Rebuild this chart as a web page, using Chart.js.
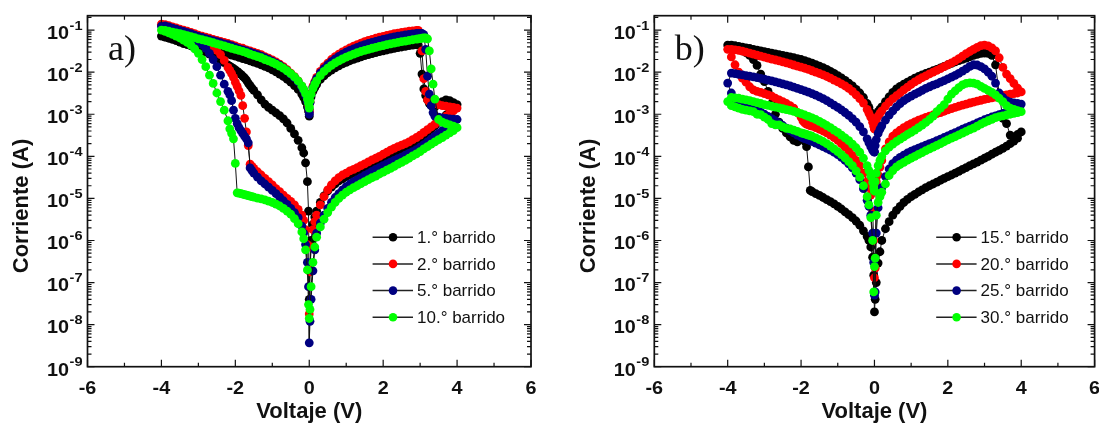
<!DOCTYPE html>
<html>
<head>
<meta charset="utf-8">
<script src="https://cdn.jsdelivr.net/npm/chart.js@4.4.0/dist/chart.umd.min.js"></script>
<style>
html,body{margin:0;padding:0;background:#fff;}
#wrap{position:relative;width:1099px;height:423px;overflow:hidden;background:#fff;}
canvas{position:absolute;top:0;}
#ca{left:0;}
#cb{left:549px;}
</style>
</head>
<body>
<div id="wrap">
<canvas id="ca" width="549" height="423"></canvas>
<canvas id="cb" width="550" height="423"></canvas>
</div>
<script>
// ---------- tick labels / categories ----------
const xTicks = [-6, -4, -2, 0, 2, 4, 6];
const yExponents = [-9, -8, -7, -6, -5, -4, -3, -2, -1];
const labelsA = ['1.° barrido', '2.° barrido', '5.° barrido', '10.° barrido'];
const labelsB = ['15.° barrido', '20.° barrido', '25.° barrido', '30.° barrido'];
const seriesColors = ['#000000', '#ff0000', '#000080', '#00ff00'];
const xTitle = 'Voltaje (V)';
const yTitle = 'Corriente (A)';

// ---------- panel a: sweep voltages (V) ----------
const voltA = [
0,0.02,0.05,0.1,0.15,0.2,0.3,0.4,0.5,0.6,0.7,0.8,0.9,1,1.1,1.2,1.3,1.4,1.5,1.6,1.7,1.8,1.9,2,2.1,2.2,2.3,2.4,2.5,2.6,2.7,2.8,2.9,2.95,3,3.05,3.1,3.15,3.2,3.25,3.3,3.35,3.4,3.5,3.6,3.7,3.8,3.9,4,
3.9,3.8,3.7,3.6,3.5,3.4,3.3,3.2,3.1,3,2.9,2.8,2.7,2.6,2.5,2.4,2.3,2.2,2.1,2,1.9,1.8,1.7,1.6,1.5,1.4,1.3,1.2,1.1,1,0.9,0.8,0.7,0.6,0.5,0.4,0.3,0.2,0.15,0.1,0.05,0.02,0,
-0.02,-0.05,-0.1,-0.15,-0.2,-0.3,-0.4,-0.5,-0.6,-0.7,-0.8,-0.9,-1,-1.1,-1.2,-1.3,-1.4,-1.5,-1.55,-1.6,-1.65,-1.7,-1.75,-1.8,-1.85,-1.9,-1.95,-2,-2.05,-2.1,-2.15,-2.2,-2.3,-2.4,-2.5,-2.6,-2.7,-2.8,-2.9,-3,-3.1,-3.2,-3.3,-3.4,-3.5,-3.6,-3.7,-3.8,-3.9,-4,
-3.9,-3.8,-3.7,-3.6,-3.5,-3.4,-3.3,-3.2,-3.1,-3,-2.9,-2.8,-2.7,-2.6,-2.5,-2.4,-2.3,-2.2,-2.1,-2,-1.9,-1.8,-1.7,-1.6,-1.5,-1.4,-1.3,-1.2,-1.1,-1,-0.9,-0.8,-0.7,-0.6,-0.5,-0.4,-0.3,-0.2,-0.15,-0.1,-0.05,-0.02,0
];
// 1.° barrido (A)
const curA1 = [
1.3e-3,1.9e-3,2.6e-3,3.5e-3,4.3e-3,5.1e-3,6.7e-3,8.2e-3,9.7e-3,1.12e-2,1.27e-2,1.42e-2,1.57e-2,1.72e-2,1.87e-2,2.02e-2,2.17e-2,2.32e-2,2.47e-2,2.62e-2,2.77e-2,2.92e-2,3.07e-2,3.22e-2,3.37e-2,3.52e-2,3.67e-2,3.82e-2,3.97e-2,4.12e-2,4.27e-2,4.4e-2,4.5e-2,4.4e-2,2.8e-2,9e-3,4e-3,2.8e-3,2.2e-3,1.8e-3,1.6e-3,1.5e-3,1.5e-3,1.7e-3,2e-3,2.2e-3,2.1e-3,1.9e-3,1.7e-3,
1.4e-3,1.15e-3,9.5e-4,7.8e-4,6.4e-4,5.3e-4,4.4e-4,3.7e-4,3.1e-4,2.6e-4,2.2e-4,1.9e-4,1.7e-4,1.5e-4,1.37e-4,1.25e-4,1.14e-4,1.04e-4,9.4e-5,8.5e-5,7.7e-5,7e-5,6.4e-5,5.8e-5,5.3e-5,4.8e-5,4.4e-5,4e-5,3.6e-5,3.3e-5,2.9e-5,2.6e-5,2.2e-5,1.85e-5,1.5e-5,1.15e-5,8e-6,5e-6,3.6e-6,2.4e-6,1e-6,2e-7,4e-8,
5e-6,2.5e-5,7e-5,1.2e-4,1.6e-4,2.4e-4,3.4e-4,4.6e-4,6.2e-4,7.8e-4,9.3e-4,1.08e-3,1.25e-3,1.45e-3,1.75e-3,2.2e-3,2.9e-3,3.7e-3,4.2e-3,4.8e-3,5.5e-3,6.5e-3,7.3e-3,8.1e-3,8.9e-3,9.7e-3,1.05e-2,1.13e-2,1.21e-2,1.3e-2,1.39e-2,1.48e-2,1.68e-2,1.9e-2,2.15e-2,2.4e-2,2.7e-2,3e-2,3.3e-2,3.6e-2,3.9e-2,4.2e-2,4.5e-2,4.8e-2,5.2e-2,5.6e-2,6e-2,6.4e-2,6.8e-2,7.2e-2,
6.9e-2,6.6e-2,6.3e-2,6e-2,5.7e-2,5.4e-2,5.1e-2,4.8e-2,4.55e-2,4.3e-2,4.05e-2,3.8e-2,3.6e-2,3.4e-2,3.2e-2,3e-2,2.85e-2,2.7e-2,2.55e-2,2.4e-2,2.25e-2,2.1e-2,1.98e-2,1.86e-2,1.74e-2,1.62e-2,1.5e-2,1.38e-2,1.26e-2,1.14e-2,1.02e-2,9e-3,7.9e-3,6.8e-3,5.8e-3,4.8e-3,3.9e-3,3e-3,2.5e-3,2e-3,1.5e-3,1.2e-3,9e-4
];
// 2.° barrido (A)
const curA2 = [
1.2e-3,2e-3,3.2e-3,4.6e-3,6e-3,7.5e-3,1.05e-2,1.35e-2,1.65e-2,2e-2,2.35e-2,2.7e-2,3.05e-2,3.4e-2,3.8e-2,4.15e-2,4.5e-2,4.9e-2,5.3e-2,5.7e-2,6e-2,6.4e-2,6.8e-2,7.1e-2,7.5e-2,7.8e-2,8.2e-2,8.5e-2,8.8e-2,9.1e-2,9.4e-2,9.6e-2,9.8e-2,9.8e-2,8.5e-2,3.2e-2,7e-3,3.5e-3,2.2e-3,2e-3,1.9e-3,1.85e-3,1.8e-3,1.7e-3,1.6e-3,1.55e-3,1.5e-3,1.45e-3,1.4e-3,
1.2e-3,1.05e-3,9e-4,7.8e-4,6.7e-4,5.8e-4,5e-4,4.3e-4,3.7e-4,3.2e-4,2.8e-4,2.5e-4,2.2e-4,2e-4,1.85e-4,1.7e-4,1.55e-4,1.4e-4,1.25e-4,1.12e-4,1e-4,9e-5,8.2e-5,7.4e-5,6.6e-5,6e-5,5.4e-5,4.9e-5,4.5e-5,4e-5,3.6e-5,3.1e-5,2.6e-5,2.1e-5,1.6e-5,1.1e-5,7e-6,4e-6,2.8e-6,1.8e-6,7e-7,1.8e-7,1.8e-8,
2e-7,8e-7,1.8e-6,3e-6,4e-6,5.5e-6,7e-6,8.5e-6,1e-5,1.2e-5,1.45e-5,1.7e-5,2.1e-5,2.5e-5,3e-5,3.6e-5,4.3e-5,5.2e-5,5.8e-5,6.5e-5,1.8e-4,3.8e-4,8e-4,1.6e-3,2.8e-3,3.6e-3,4.6e-3,5.8e-3,7.5e-3,9.2e-3,1.1e-2,1.3e-2,1.9e-2,2.6e-2,3.3e-2,4e-2,4.8e-2,5.6e-2,6.3e-2,7e-2,7.7e-2,8.3e-2,8.9e-2,9.5e-2,1.01e-1,1.07e-1,1.14e-1,1.21e-1,1.29e-1,1.38e-1,
1.35e-1,1.28e-1,1.2e-1,1.13e-1,1.06e-1,1e-1,9.4e-2,8.8e-2,8.2e-2,7.6e-2,7.2e-2,6.8e-2,6.4e-2,6e-2,5.7e-2,5.4e-2,5.1e-2,4.8e-2,4.5e-2,4.2e-2,3.9e-2,3.7e-2,3.4e-2,3.2e-2,3e-2,2.8e-2,2.6e-2,2.35e-2,2.15e-2,1.95e-2,1.75e-2,1.55e-2,1.35e-2,1.15e-2,9.5e-3,7.8e-3,6.2e-3,4.6e-3,3.8e-3,3e-3,2.1e-3,1.5e-3,1.1e-3
];
// 5.° barrido (A)
const curA5 = [
1.1e-3,1.9e-3,3e-3,4.3e-3,5.6e-3,7e-3,9.6e-3,1.22e-2,1.5e-2,1.78e-2,2.08e-2,2.38e-2,2.68e-2,2.98e-2,3.3e-2,3.6e-2,3.9e-2,4.2e-2,4.5e-2,4.8e-2,5.1e-2,5.4e-2,5.7e-2,6e-2,6.3e-2,6.6e-2,6.9e-2,7.2e-2,7.4e-2,7.7e-2,7.9e-2,8.1e-2,8.3e-2,8.4e-2,8.4e-2,8.3e-2,7.8e-2,3.5e-2,8e-3,3e-3,1.6e-3,1.1e-3,9e-4,8.5e-4,8.2e-4,8e-4,7.8e-4,7.6e-4,7.5e-4,
6.5e-4,5.6e-4,4.8e-4,4.1e-4,3.5e-4,3e-4,2.6e-4,2.2e-4,1.9e-4,1.65e-4,1.45e-4,1.3e-4,1.17e-4,1.06e-4,9.6e-5,8.8e-5,8e-5,7.3e-5,6.6e-5,6e-5,5.4e-5,4.9e-5,4.4e-5,3.9e-5,3.5e-5,3.1e-5,2.8e-5,2.5e-5,2.2e-5,1.9e-5,1.6e-5,1.3e-5,1.05e-5,8e-6,5.8e-6,4e-6,2.6e-6,1.5e-6,6e-7,1.9e-7,4e-8,1.2e-8,3.7e-9,
8e-8,3e-7,8e-7,1.5e-6,2.2e-6,3.5e-6,4.6e-6,5.8e-6,7.2e-6,8.8e-6,1.07e-5,1.3e-5,1.55e-5,1.85e-5,2.2e-5,2.6e-5,3.2e-5,4e-5,4.6e-5,5.3e-5,2.1e-4,2.6e-4,3e-4,3.5e-4,4.1e-4,4.8e-4,6e-4,8e-4,1.25e-3,2.1e-3,2.9e-3,3.5e-3,5.2e-3,8.5e-3,1.35e-2,2e-2,2.8e-2,3.7e-2,4.6e-2,5.4e-2,6.2e-2,6.9e-2,7.6e-2,8.3e-2,9e-2,9.7e-2,1.04e-1,1.11e-1,1.18e-1,1.25e-1,
1.26e-1,1.19e-1,1.12e-1,1.05e-1,9.9e-2,9.3e-2,8.7e-2,8.2e-2,7.6e-2,7.1e-2,6.7e-2,6.3e-2,5.9e-2,5.6e-2,5.3e-2,5e-2,4.7e-2,4.5e-2,4.2e-2,3.9e-2,3.6e-2,3.4e-2,3.2e-2,3e-2,2.8e-2,2.6e-2,2.4e-2,2.2e-2,2e-2,1.82e-2,1.64e-2,1.46e-2,1.27e-2,1.08e-2,9e-3,7.4e-3,5.9e-3,4.4e-3,3.6e-3,2.8e-3,2e-3,1.4e-3,1e-3
];
// 10.° barrido (A)
const curA10 = [
1.5e-3,2.1e-3,3e-3,4.1e-3,5.1e-3,6.2e-3,8.3e-3,1.04e-2,1.25e-2,1.45e-2,1.66e-2,1.86e-2,2.06e-2,2.27e-2,2.48e-2,2.68e-2,2.9e-2,3.1e-2,3.3e-2,3.5e-2,3.7e-2,3.9e-2,4.1e-2,4.3e-2,4.5e-2,4.7e-2,4.9e-2,5.1e-2,5.3e-2,5.5e-2,5.7e-2,5.9e-2,6.1e-2,6.2e-2,6.3e-2,6.4e-2,6.5e-2,6.5e-2,6.2e-2,3.2e-2,1.2e-2,5.2e-3,2.3e-3,7.5e-4,6.5e-4,6e-4,5.6e-4,5.2e-4,4.8e-4,
4.1e-4,3.6e-4,3.2e-4,2.8e-4,2.5e-4,2.2e-4,1.95e-4,1.7e-4,1.5e-4,1.3e-4,1.15e-4,1.02e-4,9e-5,8e-5,7.2e-5,6.5e-5,5.8e-5,5.2e-5,4.7e-5,4.2e-5,3.8e-5,3.4e-5,3.1e-5,2.8e-5,2.5e-5,2.25e-5,2e-5,1.8e-5,1.6e-5,1.4e-5,1.2e-5,1e-5,8e-6,6.2e-6,4.6e-6,3.2e-6,2.1e-6,1.2e-6,7e-7,3e-7,8e-8,2.3e-8,1.4e-8,
3e-8,2e-7,6e-7,1.1e-6,1.6e-6,2.5e-6,3.3e-6,4.2e-6,5e-6,5.8e-6,6.6e-6,7.3e-6,8e-6,8.6e-6,9.2e-6,9.7e-6,1.02e-5,1.07e-5,1.1e-5,1.13e-5,1.16e-5,1.2e-5,1.23e-5,1.26e-5,1.3e-5,1.33e-5,1.36e-5,6.8e-5,2.6e-4,3.5e-4,4.5e-4,7e-4,1.25e-3,2e-3,3.2e-3,5.4e-3,8.5e-3,1.35e-2,2e-2,2.8e-2,3.6e-2,4.4e-2,5.1e-2,5.8e-2,6.5e-2,7.2e-2,7.9e-2,8.6e-2,9.3e-2,1e-1,
9.8e-2,9.4e-2,9e-2,8.6e-2,8.2e-2,7.8e-2,7.4e-2,7e-2,6.6e-2,6.2e-2,5.9e-2,5.6e-2,5.3e-2,5e-2,4.7e-2,4.45e-2,4.2e-2,3.95e-2,3.7e-2,3.5e-2,3.3e-2,3.1e-2,2.9e-2,2.7e-2,2.5e-2,2.35e-2,2.2e-2,2e-2,1.85e-2,1.7e-2,1.55e-2,1.4e-2,1.24e-2,1.08e-2,9.2e-3,7.7e-3,6.2e-3,4.7e-3,3.9e-3,3.1e-3,2.3e-3,1.8e-3,1.4e-3
];

// ---------- panel b: sweep voltages (V) ----------
const voltB = [
0,0.02,0.05,0.1,0.15,0.2,0.3,0.4,0.5,0.6,0.7,0.8,0.9,1,1.1,1.2,1.3,1.4,1.5,1.6,1.7,1.8,1.9,2,2.1,2.2,2.3,2.4,2.5,2.6,2.7,2.8,2.9,3,3.1,3.2,3.3,3.4,3.5,3.6,3.7,3.8,3.9,4,
3.9,3.8,3.7,3.6,3.5,3.4,3.3,3.2,3.1,3,2.9,2.8,2.7,2.6,2.5,2.4,2.3,2.2,2.1,2,1.9,1.8,1.7,1.6,1.5,1.4,1.3,1.2,1.1,1,0.9,0.8,0.7,0.6,0.5,0.4,0.3,0.2,0.15,0.1,0.05,0.02,0,
-0.02,-0.05,-0.1,-0.15,-0.2,-0.3,-0.4,-0.5,-0.6,-0.7,-0.8,-0.9,-1,-1.1,-1.2,-1.3,-1.4,-1.5,-1.6,-1.7,-1.75,-1.8,-1.85,-1.9,-1.95,-2,-2.1,-2.2,-2.3,-2.4,-2.5,-2.6,-2.7,-2.8,-2.9,-3,-3.1,-3.2,-3.3,-3.4,-3.5,-3.6,-3.7,-3.8,-3.9,-4,
-3.9,-3.8,-3.7,-3.6,-3.5,-3.4,-3.3,-3.2,-3.1,-3,-2.9,-2.8,-2.7,-2.6,-2.5,-2.4,-2.3,-2.2,-2.1,-2,-1.9,-1.8,-1.7,-1.6,-1.5,-1.4,-1.3,-1.2,-1.1,-1,-0.9,-0.8,-0.7,-0.6,-0.5,-0.4,-0.3,-0.2,-0.15,-0.1,-0.05,-0.02,0
];
// 15.° barrido (A)
const curB15 = [
5.5e-4,7e-4,9e-4,1.15e-3,1.3e-3,1.5e-3,2e-3,2.6e-3,3.3e-3,4e-3,4.6e-3,5.2e-3,5.8e-3,6.5e-3,7.2e-3,7.9e-3,8.6e-3,9.3e-3,1e-2,1.08e-2,1.17e-2,1.27e-2,1.38e-2,1.5e-2,1.62e-2,1.75e-2,1.88e-2,2.02e-2,2.17e-2,2.33e-2,2.5e-2,2.65e-2,2.8e-2,2.85e-2,2.8e-2,2.5e-2,1.5e-2,3e-3,8e-4,6e-4,3.2e-4,2.9e-4,3.3e-4,3.8e-4,
2.7e-4,2.3e-4,2e-4,1.75e-4,1.55e-4,1.38e-4,1.25e-4,1.12e-4,1e-4,9e-5,8.1e-5,7.3e-5,6.6e-5,6e-5,5.4e-5,4.9e-5,4.4e-5,4e-5,3.6e-5,3.3e-5,3e-5,2.7e-5,2.45e-5,2.2e-5,2e-5,1.8e-5,1.6e-5,1.42e-5,1.25e-5,1.1e-5,9.5e-6,8e-6,6.5e-6,5.2e-6,4e-6,2.8e-6,1.9e-6,1e-6,5.4e-7,2.9e-7,1e-7,4e-8,2e-8,
1.5e-7,4e-7,7e-7,1e-6,1.25e-6,1.7e-6,2.3e-6,2.9e-6,3.5e-6,4.1e-6,4.8e-6,5.6e-6,6.5e-6,7.4e-6,8.4e-6,9.4e-6,1.05e-5,1.18e-5,1.3e-5,1.45e-5,1.55e-5,5.6e-5,1.7e-4,2.3e-4,3e-4,2.6e-4,2.2e-4,2.4e-4,2.9e-4,3.6e-4,4.6e-4,6.5e-4,1e-3,1.8e-3,3.5e-3,6e-3,9e-3,1.45e-2,2e-2,2.5e-2,2.9e-2,3.2e-2,3.5e-2,3.8e-2,4.1e-2,4.4e-2,
4.4e-2,4.25e-2,4.1e-2,3.95e-2,3.8e-2,3.65e-2,3.5e-2,3.35e-2,3.2e-2,3.07e-2,2.95e-2,2.83e-2,2.72e-2,2.6e-2,2.5e-2,2.4e-2,2.3e-2,2.2e-2,2.1e-2,2e-2,1.88e-2,1.76e-2,1.64e-2,1.52e-2,1.4e-2,1.28e-2,1.16e-2,1.05e-2,9.4e-3,8.3e-3,7.3e-3,6.4e-3,5.5e-3,4.7e-3,3.9e-3,3.2e-3,2.5e-3,1.8e-3,1.45e-3,1.1e-3,8e-4,6.5e-4,5.5e-4
];
// 20.° barrido (A)
const curB20 = [
4.5e-4,5.5e-4,7e-4,9e-4,1.05e-3,1.2e-3,1.55e-3,1.95e-3,2.35e-3,2.75e-3,3.2e-3,3.8e-3,4.4e-3,5.1e-3,5.9e-3,6.6e-3,7.4e-3,8.2e-3,9.1e-3,1e-2,1.1e-2,1.22e-2,1.35e-2,1.5e-2,1.67e-2,1.86e-2,2.1e-2,2.4e-2,2.75e-2,3.1e-2,3.5e-2,3.9e-2,4.3e-2,4.4e-2,4.2e-2,3.8e-2,3.2e-2,2.2e-2,1.3e-2,9e-3,7e-3,5.4e-3,4.2e-3,3.4e-3,
3.2e-3,3.1e-3,3e-3,2.9e-3,2.8e-3,2.7e-3,2.55e-3,2.45e-3,2.35e-3,2.25e-3,2.15e-3,2.05e-3,1.95e-3,1.85e-3,1.75e-3,1.65e-3,1.55e-3,1.45e-3,1.36e-3,1.27e-3,1.18e-3,1.1e-3,1.03e-3,9.6e-4,9e-4,8.4e-4,7.8e-4,7.2e-4,6.6e-4,6e-4,5.4e-4,4.8e-4,4.2e-4,3.6e-4,3e-4,2.2e-4,1.5e-4,8e-5,5.5e-5,3.6e-5,2.5e-5,2.2e-7,1.3e-7,
1e-6,5e-6,1.2e-5,1.8e-5,2.5e-5,4e-5,6e-5,8e-5,1.05e-4,1.35e-4,1.65e-4,2e-4,2.4e-4,2.8e-4,3.2e-4,3.6e-4,4e-4,4.4e-4,4.8e-4,5.2e-4,5.4e-4,5.6e-4,5.8e-4,6.2e-4,7e-4,8.5e-4,1.1e-3,1.4e-3,1.6e-3,1.8e-3,2e-3,2.2e-3,2.4e-3,2.7e-3,2.9e-3,3.1e-3,3.3e-3,3.5e-3,3.8e-3,4.5e-3,5.8e-3,7.2e-3,1e-2,1.5e-2,2.3e-2,3.5e-2,
3.5e-2,3.4e-2,3.3e-2,3.15e-2,3e-2,2.85e-2,2.7e-2,2.55e-2,2.4e-2,2.28e-2,2.16e-2,2.05e-2,1.95e-2,1.85e-2,1.75e-2,1.66e-2,1.57e-2,1.48e-2,1.4e-2,1.32e-2,1.24e-2,1.16e-2,1.08e-2,1e-2,9.3e-3,8.6e-3,7.9e-3,7.2e-3,6.5e-3,5.9e-3,5.3e-3,4.7e-3,4.1e-3,3.5e-3,2.9e-3,2.35e-3,1.85e-3,1.3e-3,1.05e-3,8.5e-4,6.5e-4,5.2e-4,4.5e-4
];
// 25.° barrido (A)
const curB25 = [
1.3e-4,1.8e-4,2.5e-4,3.5e-4,4.4e-4,5.3e-4,7.2e-4,9.5e-4,1.2e-3,1.5e-3,1.8e-3,2.1e-3,2.4e-3,2.7e-3,3e-3,3.3e-3,3.7e-3,4.1e-3,4.5e-3,4.9e-3,5.3e-3,5.8e-3,6.3e-3,6.9e-3,7.6e-3,8.4e-3,9.4e-3,1.06e-2,1.2e-2,1.38e-2,1.5e-2,1.48e-2,1.35e-2,1.2e-2,1e-2,8e-3,5.5e-3,3.2e-3,2.5e-3,2.1e-3,1.95e-3,1.85e-3,1.8e-3,1.75e-3,
1.45e-3,1.3e-3,1.2e-3,1.12e-3,1.05e-3,9.8e-4,9.2e-4,8.6e-4,8e-4,7.4e-4,6.8e-4,6.2e-4,5.7e-4,5.2e-4,4.8e-4,4.4e-4,4e-4,3.65e-4,3.35e-4,3.05e-4,2.8e-4,2.55e-4,2.35e-4,2.15e-4,2e-4,1.85e-4,1.7e-4,1.57e-4,1.45e-4,1.32e-4,1.2e-4,1.07e-4,9.4e-5,8.1e-5,6.7e-5,5e-5,3.3e-5,1.8e-5,1.2e-5,6e-6,1.5e-6,6e-8,5e-8,
3e-7,1.5e-6,4e-6,6.5e-6,9e-6,1.7e-5,2.8e-5,4e-5,5.3e-5,6.6e-5,8e-5,9.5e-5,1.1e-4,1.25e-4,1.4e-4,1.55e-4,1.7e-4,1.87e-4,2.05e-4,2.25e-4,2.35e-4,2.45e-4,2.55e-4,2.65e-4,2.75e-4,2.9e-4,3.2e-4,3.6e-4,4.1e-4,4.7e-4,5.4e-4,6.2e-4,7e-4,7.9e-4,8.9e-4,1e-3,1.12e-3,1.25e-3,1.4e-3,1.55e-3,1.7e-3,1.85e-3,2e-3,2.3e-3,3.2e-3,5.5e-3,
9.5e-3,9.2e-3,8.9e-3,8.6e-3,8.3e-3,8e-3,7.7e-3,7.4e-3,7.1e-3,6.8e-3,6.5e-3,6.2e-3,5.9e-3,5.6e-3,5.3e-3,5e-3,4.7e-3,4.4e-3,4.1e-3,3.85e-3,3.6e-3,3.35e-3,3.1e-3,2.85e-3,2.6e-3,2.35e-3,2.1e-3,1.87e-3,1.65e-3,1.45e-3,1.27e-3,1.1e-3,9.4e-4,7.9e-4,6.5e-4,5.1e-4,3.8e-4,2.6e-4,2.1e-4,1.7e-4,1.4e-4,1.3e-4,1.25e-4
];
// 30.° barrido (A)
const curB30 = [
1.5e-5,2.5e-5,4e-5,6e-5,8e-5,1e-4,1.35e-4,1.65e-4,1.95e-4,2.25e-4,2.55e-4,2.9e-4,3.3e-4,3.7e-4,4.2e-4,4.8e-4,5.5e-4,6.4e-4,7.5e-4,9e-4,1.15e-3,1.4e-3,1.7e-3,2.3e-3,3e-3,3.6e-3,4.3e-3,5e-3,5.4e-3,5.6e-3,5.5e-3,5.2e-3,4.6e-3,4.1e-3,3.7e-3,3.3e-3,2.9e-3,2.4e-3,2e-3,1.6e-3,1.4e-3,1.3e-3,1.22e-3,1.15e-3,
1.1e-3,1.05e-3,1e-3,9.6e-4,9.2e-4,8.8e-4,8.3e-4,7.6e-4,7e-4,6.4e-4,5.8e-4,5.2e-4,4.7e-4,4.3e-4,3.9e-4,3.55e-4,3.25e-4,2.95e-4,2.7e-4,2.45e-4,2.22e-4,2e-4,1.82e-4,1.65e-4,1.5e-4,1.36e-4,1.23e-4,1.11e-4,1e-4,9e-5,8.1e-5,7.2e-5,6.4e-5,5.6e-5,4.6e-5,3.5e-5,2.2e-5,1.4e-5,1.1e-5,8e-6,4e-6,3.8e-7,2.4e-7,
6e-8,1e-6,3.5e-6,7e-6,1.1e-5,2e-5,3.2e-5,4.5e-5,6e-5,7.5e-5,9.2e-5,1.1e-4,1.3e-4,1.5e-4,1.75e-4,2e-4,2.25e-4,2.5e-4,2.75e-4,3e-4,3.1e-4,3.2e-4,3.3e-4,3.4e-4,3.5e-4,3.6e-4,3.9e-4,4.2e-4,4.5e-4,4.6e-4,5e-4,5.6e-4,5.6e-4,6e-4,7.5e-4,8.5e-4,9.8e-4,1e-3,1.15e-3,1.2e-3,1.25e-3,1.3e-3,1.4e-3,1.5e-3,1.6e-3,2e-3,
2.5e-3,2.45e-3,2.4e-3,2.3e-3,2.2e-3,2.1e-3,2e-3,1.9e-3,1.8e-3,1.7e-3,1.62e-3,1.55e-3,1.48e-3,1.41e-3,1.35e-3,1.29e-3,1.23e-3,1.17e-3,1.1e-3,1.03e-3,9.6e-4,8.9e-4,8.2e-4,7.5e-4,6.8e-4,6.1e-4,5.4e-4,4.8e-4,4.2e-4,3.7e-4,3.2e-4,2.75e-4,2.35e-4,1.95e-4,1.6e-4,1.25e-4,9e-5,6e-5,4.6e-5,3.4e-5,2.4e-5,1.8e-5,1.5e-5
];

// ---------- layout (pixels) ----------
const H = 423, TOP = 15.7, BOTTOM = 366.7;
const Y_MIN = 1e-9, Y_MAX = 0.22;
const SANS = '"Liberation Sans", Arial, Helvetica, sans-serif';

function stretchText(ctx, txt, x, y, align, sx) {
  const w = ctx.measureText(txt).width * sx;
  const x0 = align === 'right' ? x - w : (align === 'center' ? x - w / 2 : x);
  ctx.save();
  ctx.translate(x0, y);
  ctx.scale(sx, 1);
  ctx.textAlign = 'left';
  ctx.fillText(txt, 0, 0);
  ctx.restore();
  return w;
}

const decor = {
  id: 'decor',
  afterDraw(chart) {
    const o = chart.options.plugins.decor;
    const ctx = chart.ctx, a = chart.chartArea, xs = chart.scales.x, ys = chart.scales.y;
    ctx.save();
    // ticks (inward, all four sides)
    ctx.strokeStyle = '#111';
    ctx.lineWidth = 1.2;
    ctx.beginPath();
    for (let i = 0; i < xTicks.length; i++) {
      const px = xs.getPixelForValue(xTicks[i]);
      ctx.moveTo(px, a.bottom); ctx.lineTo(px, a.bottom - 7);
      ctx.moveTo(px, a.top); ctx.lineTo(px, a.top + 7);
      if (i < xTicks.length - 1) {
        const pm = xs.getPixelForValue((xTicks[i] + xTicks[i + 1]) / 2);
        ctx.moveTo(pm, a.bottom); ctx.lineTo(pm, a.bottom - 4);
        ctx.moveTo(pm, a.top); ctx.lineTo(pm, a.top + 4);
      }
    }
    const e0 = yExponents[0], e1 = yExponents[yExponents.length - 1] + 1;
    for (let e = e0; e <= e1; e++) {
      for (let m = 1; m <= 9; m++) {
        const v = m * Math.pow(10, e);
        if (v < ys.min * 0.999 || v > ys.max) continue;
        const py = ys.getPixelForValue(v);
        const len = m === 1 ? 7 : 4;
        ctx.moveTo(a.left, py); ctx.lineTo(a.left + len, py);
        ctx.moveTo(a.right, py); ctx.lineTo(a.right - len, py);
      }
    }
    ctx.stroke();
    // frame
    ctx.lineWidth = 1.7;
    ctx.strokeRect(a.left, a.top, a.right - a.left, a.bottom - a.top);

    // x tick labels
    ctx.fillStyle = '#111';
    ctx.textBaseline = 'alphabetic';
    ctx.font = 'bold 18px ' + SANS;
    xTicks.forEach(v => stretchText(ctx, String(v), xs.getPixelForValue(v), a.bottom + 27.3, 'center', 1.1));
    // y tick labels 10^n
    yExponents.forEach(e => {
      const py = ys.getPixelForValue(Math.pow(10, e));
      ctx.font = 'bold 13px ' + SANS;
      const ew = stretchText(ctx, String(e), a.left - 5, py - 0.5, 'right', 1.12);
      ctx.font = 'bold 18px ' + SANS;
      stretchText(ctx, '10', a.left - 5 - ew - 0.5, py + 8.8, 'right', 1.1);
    });
    // axis titles
    ctx.font = 'bold 22px ' + SANS;
    ctx.textAlign = 'center';
    ctx.fillText(xTitle, (a.left + a.right) / 2, a.bottom + 51.3);
    ctx.save();
    ctx.translate(a.left - 59.2, 206);
    ctx.rotate(-Math.PI / 2);
    ctx.fillText(yTitle, 0, 0);
    ctx.restore();

    // panel letter
    ctx.font = '36px "Liberation Serif", "Times New Roman", serif';
    ctx.textAlign = 'left';
    ctx.fillText(o.letter, a.left + 20.5, 60);

    // legend
    chart.data.datasets.forEach((ds, i) => {
      const y = a.top + 221.5 + i * 26.7;
      ctx.strokeStyle = '#222';
      ctx.lineWidth = 1.5;
      ctx.beginPath();
      ctx.moveTo(a.right - 158.4, y); ctx.lineTo(a.right - 118, y);
      ctx.stroke();
      ctx.fillStyle = ds.pointBackgroundColor;
      ctx.beginPath();
      ctx.arc(a.right - 138, y, 4.3, 0, Math.PI * 2);
      ctx.fill();
      ctx.fillStyle = '#111';
      ctx.font = '17px ' + SANS;
      ctx.textAlign = 'left';
      ctx.textBaseline = 'middle';
      ctx.fillText(ds.label, a.right - 114, y + 1);
      ctx.textBaseline = 'alphabetic';
    });
    ctx.restore();
  }
};

function buildPanel(id, W, left, right, volt, currents, labels, letter) {
  currents.forEach((c, i) => {
    if (c.length !== volt.length) console.error('length mismatch', id, i, c.length, volt.length);
  });
  const datasets = currents.map((c, i) => ({
    label: labels[i],
    data: volt.map((v, k) => ({ x: v, y: c[k] })),
    showLine: true,
    borderColor: '#111',
    borderWidth: 1,
    pointRadius: 4.4,
    pointBorderWidth: 0,
    pointBackgroundColor: seriesColors[i],
    pointBorderColor: seriesColors[i],
    tension: 0,
    order: currents.length - i
  }));
  return new Chart(document.getElementById(id), {
    type: 'scatter',
    data: { datasets },
    options: {
      responsive: false,
      animation: false,
      devicePixelRatio: 1,
      events: [],
      layout: { padding: { left: 0, top: TOP, right: W - right, bottom: 0 } },
      scales: {
        x: {
          type: 'linear', min: -6, max: 6,
          grid: { display: false, drawTicks: false },
          border: { display: false },
          ticks: { display: false },
          afterFit(s) { s.height = H - BOTTOM; }
        },
        y: {
          type: 'logarithmic', min: Y_MIN, max: Y_MAX,
          grid: { display: false, drawTicks: false },
          border: { display: false },
          ticks: { display: false },
          afterFit(s) { s.width = left; }
        }
      },
      plugins: {
        legend: { display: false },
        tooltip: { enabled: false },
        decor: { letter }
      }
    },
    plugins: [decor]
  });
}

buildPanel('ca', 549, 87.5, 531, voltA, [curA1, curA2, curA5, curA10], labelsA, 'a)');
buildPanel('cb', 550, 105.3, 548.7, voltB, [curB15, curB20, curB25, curB30], labelsB, 'b)');
</script>
</body>
</html>
